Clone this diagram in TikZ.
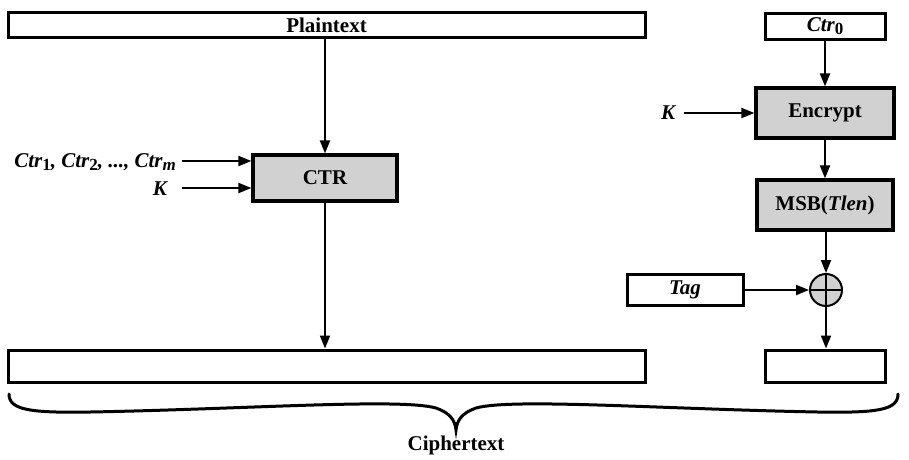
\documentclass[tikz,border=0pt]{standalone}
\usepackage{fontspec}
\setmainfont{Liberation Serif}
\usetikzlibrary{arrows.meta}
\newcommand{\sbs}[1]{\raisebox{-0.3ex}{\fontsize{17}{18}\selectfont\upshape\bfseries #1}}
\begin{document}
\begin{tikzpicture}[x=1pt,y=-1pt,
  txt/.style={font=\fontsize{21}{23}\selectfont\bfseries},
  wbox/.style={draw,line width=3pt,fill=white,inner sep=0pt,minimum height=#1},
  gbox/.style={draw,line width=3.2pt,fill=black!18,inner sep=0pt,txt},
  arr/.style={line width=2pt,-{Triangle[length=13pt,width=10pt]}}]
\useasboundingbox (0,0) rectangle (909,459);
% top boxes
\node[wbox=25pt,minimum width=637pt,txt] (plain) at (326.5,25) {Plaintext};
\node[wbox=26pt,minimum width=120pt,txt] (ctr0) at (825,26) {\itshape Ctr\sbs{0}};
% CTR
\node[gbox,minimum width=144pt,minimum height=46pt] (ctr) at (325,178) {CTR};
\node[txt,anchor=east,inner sep=0pt] (ctrs) at (176,162) {\itshape Ctr\sbs{1}, Ctr\sbs{2}, ..., Ctr\sbs{\itshape m}};
\node[txt,anchor=east,inner sep=0pt] (k1) at (167,189) {\itshape K};
\coordinate (c1) at (182,161);
\coordinate (c2) at (182,188);
% bottom boxes
\node[wbox=32pt,minimum width=637pt] (cl) at (326.5,366) {};
\node[wbox=32pt,minimum width=120pt] (cr) at (825,366) {};
% right column
\node[gbox,minimum width=138pt,minimum height=50pt] (enc) at (825,113) {Encrypt};
\node[gbox,minimum width=136pt,minimum height=50pt] (msb) at (825,205) {MSB(\textit{Tlen})};
\node[txt,inner sep=0pt] (k2) at (668,113) {\itshape K};
\coordinate (k2e) at (684,113);
\node[draw,circle,line width=2pt,fill=black!18,minimum size=32pt,inner sep=0pt] (xor) at (826,290) {};
\draw[line width=2pt] (xor.north) -- (xor.south) (xor.west) -- (xor.east);
\node[wbox=31pt,minimum width=116pt,txt] (tag) at (685,290) {\itshape Tag};
% arrows
\draw[arr] (plain.south -| ctr.north) -- (ctr.north);
\draw[arr] (c1) -- (c1 -| ctr.west);
\draw[arr] (c2) -- (c2 -| ctr.west);
\draw[arr] (ctr.south) -- (ctr.south |- cl.north);
\draw[arr] (ctr0.south) -- (enc.north);
\draw[arr] (k2e) -- (enc.west);
\draw[arr] (enc.south) -- (msb.north);
\draw[arr] (msb.south -| xor.north) -- (xor.north);
\draw[arr] (tag.east) -- (xor.west);
\draw[arr] (xor.south) -- (xor.south |- cr.north);
% brace
\coordinate (bl) at (9,394);
\coordinate (br) at (898,394);
\coordinate (bt) at (456,430);
\draw[line width=3pt,line cap=round] (bl) .. controls (9,410) and (30,413) .. (90,412)
  .. controls (250,409) and (400,398) .. (436,408) .. controls (450,413) and (455,420) .. (bt)
  .. controls (457,420) and (462,413) .. (476,408) .. controls (512,398) and (662,409) .. (818,412)
  .. controls (878,413) and (898,410) .. (br);
\node[txt] (ciph) at (456,445) {Ciphertext};
\end{tikzpicture}
\end{document}
